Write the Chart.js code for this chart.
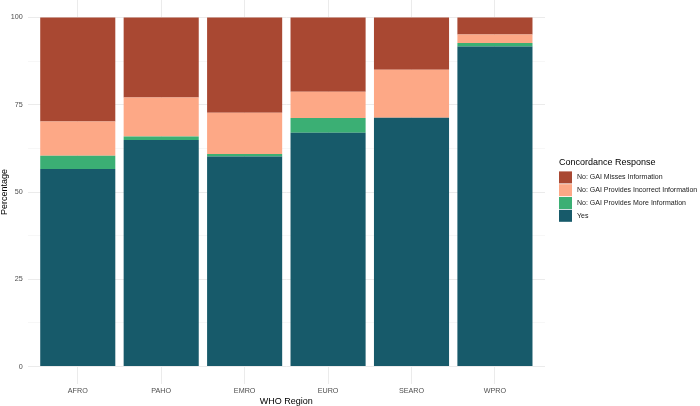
<!DOCTYPE html>
<html>
<head>
<meta charset="utf-8">
<script src="https://cdn.jsdelivr.net/npm/chart.js@4"></script>
<style>
html,body{margin:0;padding:0;background:#fff;}
#wrap{width:700px;height:406px;}
</style>
</head>
<body>
<div id="wrap"><canvas id="c" width="700" height="406"></canvas></div>
<script>
const categories = ['AFRO', 'PAHO', 'EMRO', 'EURO', 'SEARO', 'WPRO'];
const seriesNames = ['No: GAI Misses Information', 'No: GAI Provides Incorrect Information', 'No: GAI Provides More Information', 'Yes'];
const yesValues       = [56.6, 64.9, 60.2, 67.0, 71.3, 91.7];
const moreInfoValues  = [3.8, 1.0, 0.7, 4.2, 0.0, 1.0];
const incorrectValues = [9.8, 11.2, 11.8, 7.5, 13.7, 2.4];
const missesValues    = [29.8, 22.9, 27.3, 21.3, 15.0, 4.9];
const yTickValues = [0, 25, 50, 75, 100];
const yMinorValues = [12.5, 37.5, 62.5, 87.5];

const colors = {
  misses: '#A94832',
  incorrect: '#FDA886',
  more: '#3BAF74',
  yes: '#175A6A'
};
const FONT = '"Liberation Sans", Arial, Helvetica, sans-serif';

function toPoints(arr){ return arr.map((v,i)=>({x:i, y:v})); }

const datasets = [
  {label: seriesNames[3], data: toPoints(yesValues), backgroundColor: colors.yes},
  {label: seriesNames[2], data: toPoints(moreInfoValues), backgroundColor: colors.more},
  {label: seriesNames[1], data: toPoints(incorrectValues), backgroundColor: colors.incorrect},
  {label: seriesNames[0], data: toPoints(missesValues), backgroundColor: colors.misses}
].map(d=>Object.assign(d,{barPercentage:0.9, categoryPercentage:1.0, borderWidth:0, stack:'s'}));

const legendItems = [
  {label: seriesNames[0], color: colors.misses},
  {label: seriesNames[1], color: colors.incorrect},
  {label: seriesNames[2], color: colors.more},
  {label: seriesNames[3], color: colors.yes}
];

const legendPlugin = {
  id: 'ggLegend',
  afterDraw(chart){
    const ctx = chart.ctx;
    ctx.save();
    ctx.textBaseline = 'middle';
    ctx.textAlign = 'left';
    ctx.fillStyle = '#000';
    ctx.font = '9px ' + FONT;
    ctx.fillText('Concordance Response', 559, 163);
    const top = 171, step = 12.8;
    legendItems.forEach((it, i)=>{
      const y = top + i*step;
      ctx.fillStyle = it.color;
      ctx.fillRect(559, y + 0.4, 13, step - 0.8);
      ctx.fillStyle = '#1a1a1a';
      ctx.font = '7px ' + FONT;
      ctx.fillText(it.label, 577, y + step/2);
    });
    ctx.restore();
  }
};

new Chart(document.getElementById('c'), {
  type: 'bar',
  data: { datasets },
  options: {
    responsive: false,
    animation: false,
    devicePixelRatio: 1,
    layout: { padding: { left: 0, right: 155, top: 0, bottom: 0 } },
    plugins: { legend: { display: false }, tooltip: { enabled: false } },
    scales: {
      x: {
        type: 'linear',
        stacked: true,
        offset: false,
        min: -0.6,
        max: 5.6,
        afterBuildTicks(scale){ scale.ticks = categories.map((c,i)=>({value:i})); },
        afterFit(scale){ scale.height = 22; scale.paddingLeft = 0; scale.paddingRight = 0; },
        ticks: {
          autoSkip: false,
          maxRotation: 0,
          padding: 2.5,
          color: '#4D4D4D',
          font: { family: FONT, size: 7.2 },
          callback: (v)=> categories[v] !== undefined ? categories[v] : ''
        },
        grid: { color: '#EBEBEB', lineWidth: 1, drawTicks: false, offset: false },
        border: { display: false },
        title: { display: true, text: 'WHO Region', color: '#000', font: { family: FONT, size: 9, lineHeight: 1 }, padding: 0 }
      },
      y: {
        stacked: true,
        min: -5,
        max: 105,
        afterBuildTicks(scale){
          const all = yTickValues.concat(yMinorValues).sort((a,b)=>a-b);
          scale.ticks = all.map(v=>({value:v}));
        },
        afterFit(scale){ scale.width = 27.7; scale.paddingTop = 0; scale.paddingBottom = 0; },
        ticks: {
          padding: 5,
          color: '#4D4D4D',
          font: { family: FONT, size: 7.2 },
          callback: (v)=> yTickValues.includes(v) ? String(v) : ''
        },
        grid: {
          drawTicks: false,
          color: (ctx)=> yMinorValues.includes(ctx.tick && ctx.tick.value) ? '#F2F2F2' : '#EBEBEB',
          lineWidth: (ctx)=> yMinorValues.includes(ctx.tick && ctx.tick.value) ? 0.6 : 1
        },
        border: { display: false },
        title: { display: true, text: 'Percentage', color: '#000', font: { family: FONT, size: 9, lineHeight: 1 }, padding: 0 }
      }
    }
  },
  plugins: [legendPlugin]
});
</script>
</body>
</html>
